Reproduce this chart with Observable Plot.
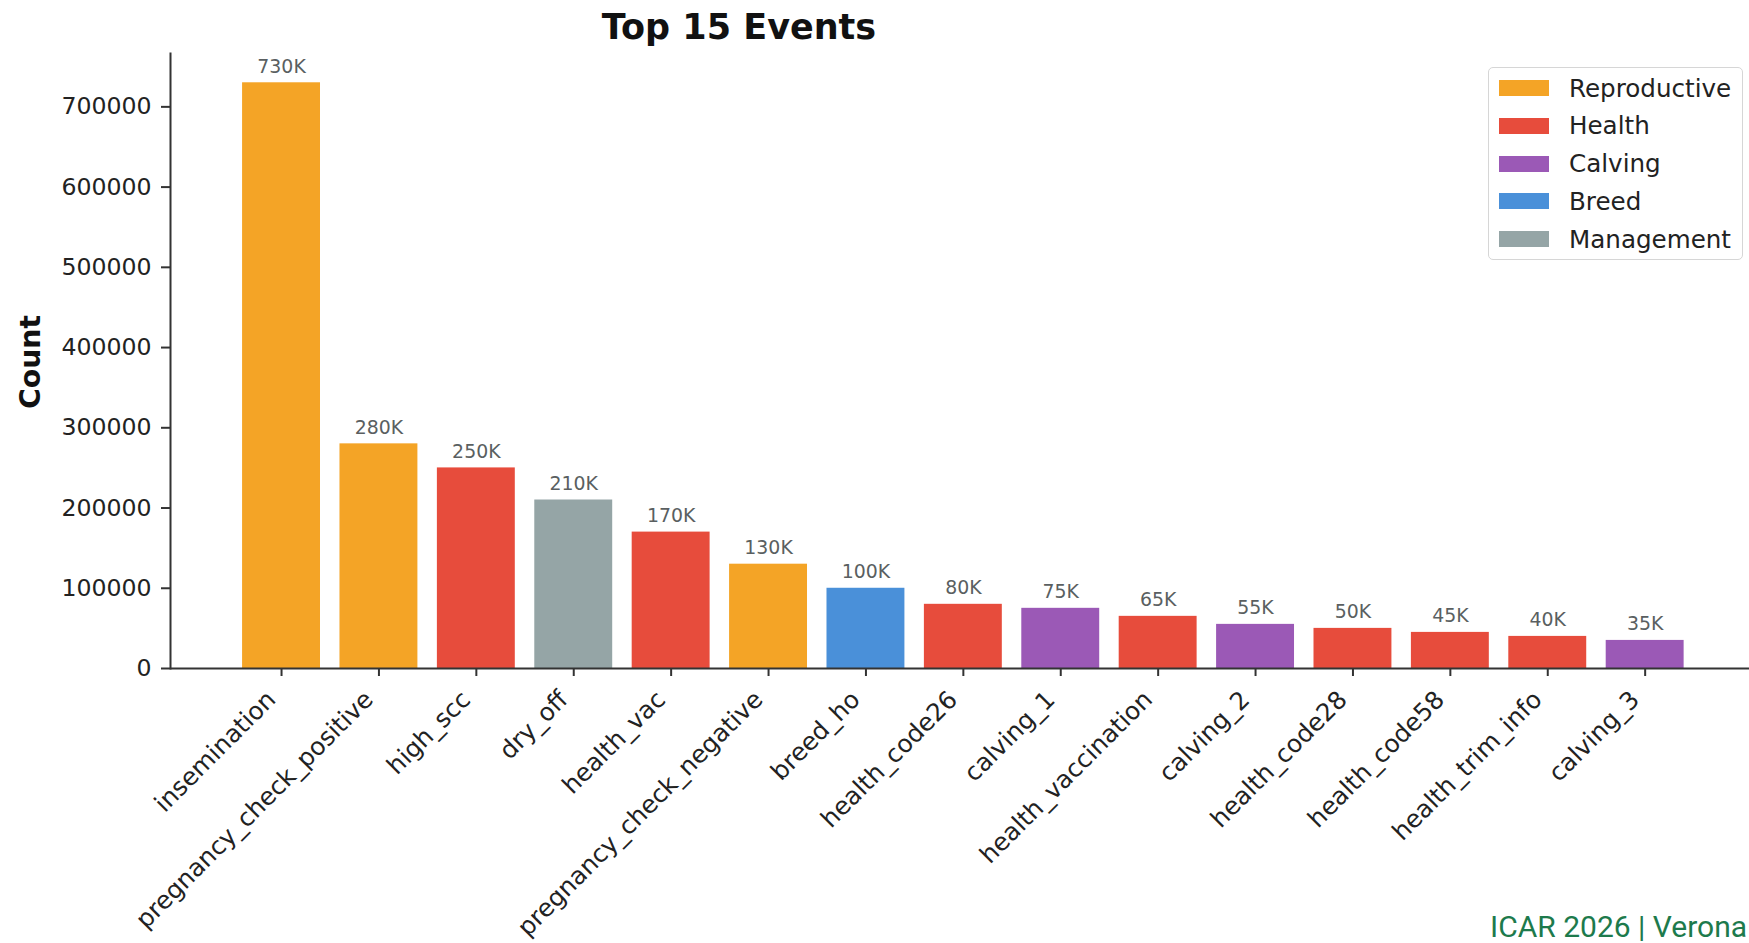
<!DOCTYPE html>
<html><head><meta charset="utf-8">
<script src="https://cdn.jsdelivr.net/npm/d3@7"></script>
<script src="https://cdn.jsdelivr.net/npm/@observablehq/plot@0.6"></script>
<style>
html,body{margin:0;padding:0;background:#fff;}
#wrap{position:relative;width:1749px;height:943px;overflow:hidden;font-family:"DejaVu Sans",sans-serif;}
#chart{position:absolute;left:0;top:0;}
#title{position:absolute;left:0;width:1478px;top:7px;text-align:center;font-weight:bold;font-size:35px;color:#111;white-space:nowrap;}
#ylabel{position:absolute;left:30px;top:362px;transform:translate(-50%,-50%) rotate(-90deg);font-weight:bold;font-size:28.3px;color:#111;white-space:nowrap;}
#legend{position:absolute;left:1488px;top:67px;width:253px;height:191px;border:1.5px solid #d6d6d6;border-radius:5px;background:#fff;box-sizing:content-box;}
.row{position:absolute;left:0;height:30px;display:flex;align-items:center;}
.sw{width:50px;height:16px;margin-left:10px;margin-right:20px;}
.lt{font-size:24.6px;color:#222;white-space:nowrap;}
#footer{position:absolute;left:1490px;top:912px;font-family:"Liberation Sans Narrow","Roboto",sans-serif;font-size:30px;line-height:30px;color:#1d7a4c;white-space:nowrap;}
</style>
</head><body>
<div id="wrap">
  <div id="chart"></div>
  <div id="title">Top 15 Events</div>
  <div id="ylabel">Count</div>
  <div id="legend"></div>
  <div id="footer">ICAR 2026 | Verona</div>
</div>
<script>
const events = ["insemination","pregnancy_check_positive","high_scc","dry_off","health_vac","pregnancy_check_negative","breed_ho","health_code26","calving_1","health_vaccination","calving_2","health_code28","health_code58","health_trim_info","calving_3"];
const counts = [730000,280000,250000,210000,170000,130000,100000,80000,75000,65000,55000,50000,45000,40000,35000];
const groups = ["Reproductive","Reproductive","Health","Management","Health","Reproductive","Breed","Health","Calving","Health","Calving","Health","Health","Health","Calving"];
const groupNames = ["Reproductive","Health","Calving","Breed","Management"];
const groupColors = ["#F4A426","#E74C3C","#9B59B6","#4A90D9","#95A5A6"];
const yTicks = [0,100000,200000,300000,400000,500000,600000,700000];

const data = events.map((e,i)=>({event:e,count:counts[i],group:groups[i],label:Math.round(counts[i]/1000)+"K"}));

const chart = Plot.plot({
  width:1749, height:943,
  marginTop:53, marginBottom:275, marginLeft:170, marginRight:0,
  style:{fontFamily:"DejaVu Sans", background:"transparent", color:"#222", overflow:"visible"},
  x:{type:"band", domain:events, range:[170,1755.7], paddingInner:0.2, paddingOuter:0.74, round:false},
  y:{domain:[0,766500]},
  color:{domain:groupNames, range:groupColors},
  marks:[
    Plot.barY(data,{x:"event", y:"count", fill:"group"}),
    Plot.text(data,{x:"event", y:"count", text:"label", dy:-16, fill:"#5a5f61", fontSize:18.9, lineAnchor:"middle"}),
    Plot.frame({anchor:"left", stroke:"#333", strokeWidth:2}),
    Plot.ruleY([0],{stroke:"#333", strokeWidth:2}),
    Plot.axisY({ticks:yTicks, tickFormat:d=>String(d), tickSize:9, tickPadding:10, fontSize:23.6, label:null, stroke:"#333", strokeWidth:2}),
    Plot.axisX({tickSize:8, tickFormat:()=>"", label:null, stroke:"#333", strokeWidth:2}),
    Plot.axisX({tickSize:0, tickPadding:27, tickRotate:-45, dx:-10, fontSize:24.6, label:null})
  ]
});
document.getElementById("chart").appendChild(chart);

const legend = document.getElementById("legend");
groupNames.forEach((g,i)=>{
  const row = document.createElement("div");
  row.className = "row";
  row.style.top = (5 + i*37.75) + "px";
  const sw = document.createElement("div");
  sw.className = "sw"; sw.style.background = groupColors[i];
  const t = document.createElement("div");
  t.className = "lt"; t.textContent = g;
  row.appendChild(sw); row.appendChild(t);
  legend.appendChild(row);
});
</script>
</body></html>
